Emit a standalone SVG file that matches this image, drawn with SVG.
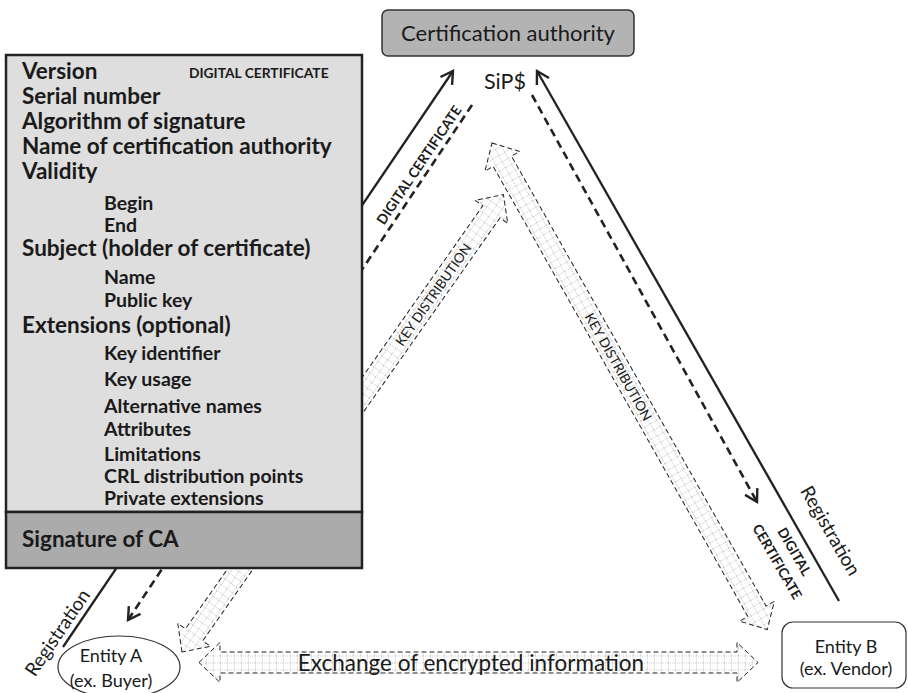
<svg xmlns="http://www.w3.org/2000/svg" width="908" height="693" viewBox="0 0 908 693">
  <defs>
    <!-- light dotted grid used to fill the wide key/exchange arrows -->
    <pattern id="grid" width="7" height="7" patternUnits="userSpaceOnUse">
      <rect width="7" height="7" fill="#fff"/>
      <path d="M0,0.5 H7 M0.5,0 V7" stroke="#c2c2c2" stroke-width="0.8" stroke-dasharray="1 1" fill="none"/>
    </pattern>
    <!-- open chevron arrowhead -->
    <marker id="chev" markerUnits="userSpaceOnUse" viewBox="-15 -9 18 18" markerWidth="18" markerHeight="18" refX="0" refY="0" orient="auto">
      <path d="M-12,-7 L0,0 L-12,7" fill="none" stroke="#222" stroke-width="2.4"/>
    </marker>
    <!-- double-headed wide arrow, laid out along +x, 559 long -->
    <path id="band" d="M0,0 L21,-20 L21,-10.5 L538,-10.5 L538,-20 L559,0 L538,20 L538,10.5 L21,10.5 L21,20 Z"/>
  </defs>
  <style>
    text { font-family: Lato, "Open Sans", "Liberation Sans", sans-serif; fill: #1a1a1a; }
    .solid { stroke: #222; stroke-width: 2.3; fill: none; }
    .dash { stroke: #222; stroke-width: 2.6; fill: none; stroke-dasharray: 8 5; }
    .band { fill: url(#grid); stroke: #222; stroke-width: 1; stroke-dasharray: 5 3; }
    .main { font-weight: bold; font-size: 22.5px; }
    .sub { font-weight: bold; font-size: 19.5px; }
    .tag { font-weight: bold; font-size: 13.8px; }
    .lbl { font-size: 13.5px; }
    .reg { font-size: 19px; text-anchor: middle; }
    .ent { font-size: 18px; text-anchor: middle; }
  </style>

  <g id="connectors">
    <!-- Entity A <-> CA -->
    <use href="#band" class="band" transform="translate(182,652) rotate(-54.9)"/>
    <text class="lbl" text-anchor="middle" transform="translate(182,652) rotate(-54.9) translate(437,5)">KEY DISTRIBUTION</text>
    <line class="solid" x1="63" y1="647" x2="453" y2="71" marker-end="url(#chev)"/>
    <line class="dash" x1="472" y1="105" x2="128" y2="620" marker-end="url(#chev)"/>
    <text class="tag" text-anchor="middle" transform="translate(419,165) rotate(-56) translate(0,5)">DIGITAL CERTIFICATE</text>
    <text class="reg" transform="translate(58,633) rotate(-56) translate(0,6)">Registration</text>

    <!-- CA <-> Entity B -->
    <use href="#band" class="band" transform="translate(492,143) rotate(60.5)"/>
    <text class="lbl" text-anchor="middle" transform="translate(492,143) rotate(60.5) translate(257,5)">KEY DISTRIBUTION</text>
    <line class="solid" x1="839" y1="601" x2="537" y2="71" marker-end="url(#chev)"/>
    <line class="dash" x1="532" y1="95" x2="757" y2="502" marker-end="url(#chev)"/>
    <g transform="translate(785,557) rotate(60)">
      <text class="tag" text-anchor="middle" y="-6">DIGITAL</text>
      <text class="tag" text-anchor="middle" y="14">CERTIFICATE</text>
    </g>
    <text class="reg" transform="translate(830,531) rotate(60) translate(0,6)">Registration</text>

    <!-- Entity A <-> Entity B -->
    <use href="#band" class="band" transform="translate(199,662.5)"/>
    <text font-size="22.5" text-anchor="middle" x="471" y="670.5">Exchange of encrypted information</text>
  </g>

  <g id="ca">
    <rect x="382" y="10" width="252" height="46" rx="6" fill="#b3b3b3" stroke="#333" stroke-width="1.5"/>
    <text font-size="22" text-anchor="middle" x="508" y="41">Certification authority</text>
  </g>

  <g id="sips">
    <text font-size="21.5" text-anchor="middle" x="505" y="89">SiP$</text>
  </g>

  <g id="certificate">
    <rect x="6" y="55" width="356" height="457" fill="#dedede" stroke="#222" stroke-width="2.5"/>
    <rect x="6" y="512" width="356" height="56" fill="#ababab" stroke="#222" stroke-width="2.5"/>
    <text class="tag" x="189" y="78">DIGITAL CERTIFICATE</text>
    <text class="main" x="22" y="79">Version</text>
    <text class="main" x="22" y="104">Serial number</text>
    <text class="main" x="22" y="129">Algorithm of signature</text>
    <text class="main" x="22" y="154">Name of certification authority</text>
    <text class="main" x="22" y="179">Validity</text>
    <text class="sub" x="104" y="210">Begin</text>
    <text class="sub" x="104" y="232">End</text>
    <text class="main" x="22" y="256">Subject (holder of certificate)</text>
    <text class="sub" x="104" y="284">Name</text>
    <text class="sub" x="104" y="307">Public key</text>
    <text class="main" x="22" y="333">Extensions (optional)</text>
    <text class="sub" x="104" y="360">Key identifier</text>
    <text class="sub" x="104" y="386">Key usage</text>
    <text class="sub" x="104" y="413">Alternative names</text>
    <text class="sub" x="104" y="436">Attributes</text>
    <text class="sub" x="104" y="461">Limitations</text>
    <text class="sub" x="104" y="483">CRL distribution points</text>
    <text class="sub" x="104" y="505">Private extensions</text>
    <text class="main" x="22" y="547" font-size="23.3">Signature of CA</text>
  </g>

  <g id="entity-a">
    <ellipse cx="119" cy="667" rx="61" ry="31" fill="#fff" stroke="#333" stroke-width="1.2"/>
    <text class="ent" x="111" y="662">Entity A</text>
    <text class="ent" x="111" y="687">(ex. Buyer)</text>
  </g>

  <g id="entity-b">
    <rect x="782" y="622" width="124" height="66" rx="11" fill="#fff" stroke="#333" stroke-width="1.2"/>
    <text class="ent" x="846" y="653">Entity B</text>
    <text class="ent" x="846" y="675">(ex. Vendor)</text>
  </g>
</svg>
